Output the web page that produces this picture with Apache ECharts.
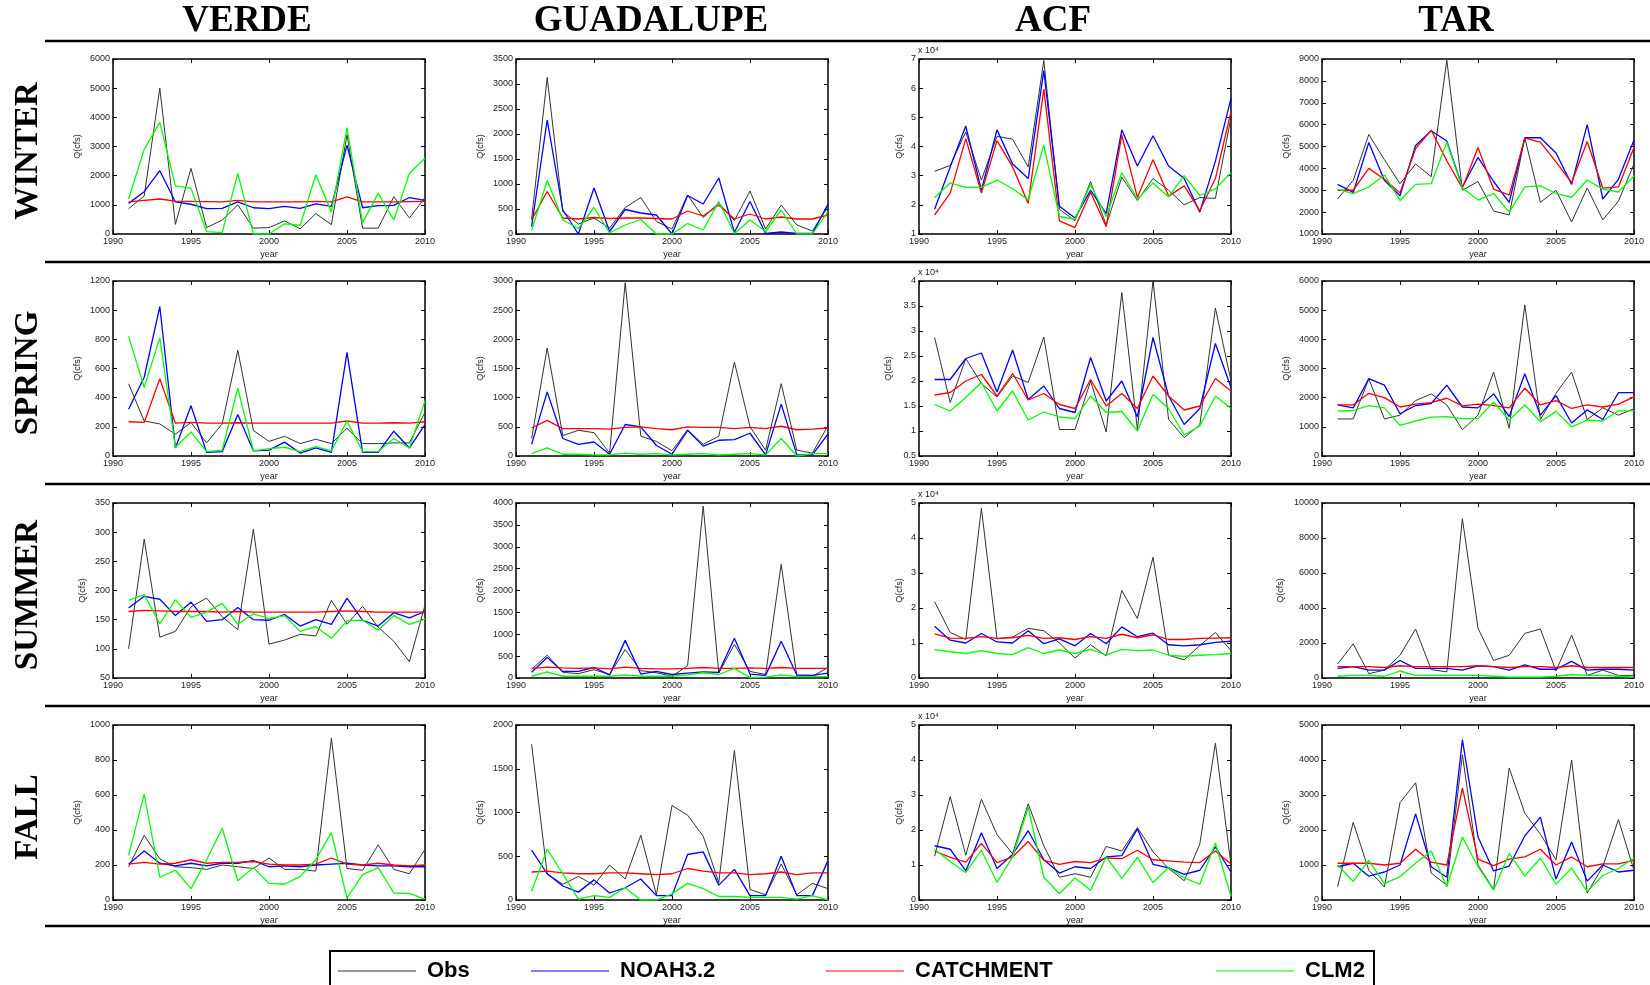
<!DOCTYPE html>
<html>
<head>
<meta charset="utf-8">
<script src="https://cdn.jsdelivr.net/npm/echarts@6/dist/echarts.min.js"></script>
<style>
html,body{margin:0;padding:0;background:#fff;}
#chart{width:1650px;height:985px;}
</style>
</head>
<body>
<div id="chart"></div>
<script>
// ---------- categories ----------
const years = [1991,1992,1993,1994,1995,1996,1997,1998,1999,2000,2001,2002,2003,2004,2005,2006,2007,2008,2009,2010];
const basins = ['VERDE','GUADALUPE','ACF','TAR'];
const seasons = ['WINTER','SPRING','SUMMER','FALL'];
const seriesNames = ['Obs','NOAH3.2','CATCHMENT','CLM2'];

// ---------- WINTER (Q, cfs) ----------
const verdeWinterObs   = [870,1300,5000,330,2250,220,480,1000,200,220,450,180,700,320,3400,200,200,1280,550,1250];
const verdeWinterNoah  = [1050,1450,2170,1100,1020,870,880,1100,900,870,950,880,1030,950,3050,900,970,980,1250,1150];
const verdeWinterCatch = [1100,1150,1200,1130,1120,1110,1100,1150,1100,1100,1100,1100,1120,1100,1270,1100,1100,1100,1110,1120];
const verdeWinterClm   = [1200,2900,3830,1650,1570,80,50,2080,0,0,350,300,2030,750,3650,380,1400,480,2080,2600];

const guadWinterObs   = [300,3130,450,200,320,120,530,730,250,100,780,330,620,270,860,100,580,180,60,550];
const guadWinterNoah  = [150,2280,480,0,920,50,490,420,380,0,770,600,1120,30,650,10,40,10,10,600];
const guadWinterCatch = [280,850,320,300,330,310,320,320,310,300,460,360,580,300,400,300,340,300,300,380];
const guadWinterClm   = [70,1070,280,110,530,20,180,290,0,0,210,80,650,10,280,50,480,0,0,450];

const acfWinterObs   = [31500,33500,45000,28500,43500,42500,33000,69500,18500,14500,28000,13000,29500,21500,29000,25000,20000,22500,22200,50000];
const acfWinterNoah  = [18500,33000,47000,25000,45700,34000,29000,66000,19500,15500,25000,17000,45700,33300,43700,33300,29000,17500,35000,56500];
const acfWinterCatch = [16500,24000,42700,24000,42000,33000,20500,59700,14500,12200,24300,12500,44000,22500,35500,23000,26500,18000,29000,52000];
const acfWinterClm   = [22500,27500,26000,26000,28500,25500,21700,40500,16000,15000,27000,16000,31000,22000,27500,22700,30000,23200,25500,31000];

const tarWinterObs   = [2600,3450,5550,4400,3300,4200,3620,8950,3000,3400,2050,1870,5400,2450,3000,1550,3100,1650,2500,4200];
const tarWinterNoah  = [3270,2900,5180,3450,2750,5050,5720,5250,3150,4500,3400,2450,5400,5400,4700,3270,6000,2600,3500,5300];
const tarWinterCatch = [3000,3000,4000,3500,2880,4900,5750,4350,3100,4950,3050,2780,5380,5200,4300,3350,5230,3100,3150,4950];
const tarWinterClm   = [3050,2850,3150,3700,2530,3270,3300,5200,3100,2550,2850,2000,3150,3200,2850,2680,3470,3050,2920,3650];

// ---------- SPRING ----------
const verdeSpringObs   = [495,240,220,150,230,90,220,725,175,100,135,85,115,85,190,85,85,90,90,300];
const verdeSpringNoah  = [320,540,1025,55,345,25,30,285,35,40,95,20,55,25,710,25,25,170,55,215];
const verdeSpringCatch = [235,230,530,225,230,225,225,228,225,225,225,225,225,225,240,225,225,228,225,235];
const verdeSpringClm   = [820,470,810,60,165,30,40,465,35,50,60,30,65,35,240,30,30,120,55,380];

const guadSpringObs   = [300,1850,350,440,400,50,2970,340,250,90,450,200,340,1610,500,100,1240,100,50,520];
const guadSpringNoah  = [200,1100,300,200,240,30,540,500,180,30,440,170,270,280,390,20,890,20,20,380];
const guadSpringCatch = [480,610,470,470,470,460,490,500,470,450,500,490,490,470,490,470,510,450,460,480];
const guadSpringClm   = [40,140,30,30,20,20,50,30,40,20,30,40,20,30,40,20,300,0,40,40];

const acfSpringObs   = [28700,15700,24500,19500,16800,21000,19700,28800,10300,10300,20000,9800,37700,10300,40000,12300,8700,11200,34600,20000];
const acfSpringNoah  = [20300,20300,24500,25600,17800,26200,16300,19000,14500,13700,24700,16000,20000,12800,28700,17000,11300,14500,27500,18700];
const acfSpringCatch = [17200,17700,20000,21300,17000,21500,16200,17500,15300,14500,20300,15000,17500,14500,21000,17000,14200,15000,20500,18000];
const acfSpringClm   = [15300,14000,16700,19700,14000,18000,12200,13800,12800,12500,17000,13700,13900,10000,17300,14500,9200,11000,17000,14500];

const tarSpringObs   = [1270,1270,2650,1270,1400,1900,2130,1750,900,1400,2880,950,5180,1250,2150,2880,1250,1650,1400,1620];
const tarSpringNoah  = [1750,1650,2650,2430,1450,1730,1800,2430,1680,1650,2130,1350,2820,1400,2070,1130,1580,1250,2170,2170];
const tarSpringCatch = [1750,1750,2150,2000,1680,1780,1830,1980,1720,1780,1730,1650,2330,1750,1900,1630,1750,1680,1780,2030];
const tarSpringClm   = [1540,1560,1730,1650,1050,1200,1330,1350,1280,1280,1850,1230,1750,1170,1530,1000,1230,1200,1550,1550];

// ---------- SUMMER ----------
const verdeSummerObs   = [100,288,120,130,172,187,155,133,305,108,115,125,122,183,142,173,137,113,78,175];
const verdeSummerNoah  = [170,190,185,157,180,147,150,171,150,149,159,139,150,142,187,149,139,162,153,164];
const verdeSummerCatch = [164,166,165,164,164,164,163,164,163,163,163,163,163,164,165,164,163,163,163,163];
const verdeSummerClm   = [183,193,143,184,154,163,178,142,160,152,157,130,138,118,148,149,132,157,142,151];

const guadSummerObs   = [200,520,130,100,190,80,650,170,120,40,280,3930,110,770,150,80,2600,50,40,240];
const guadSummerNoah  = [130,470,150,150,240,70,860,90,150,80,110,140,130,910,90,60,840,70,60,110];
const guadSummerCatch = [220,250,230,220,230,210,250,220,210,210,220,240,220,220,230,220,240,220,220,220];
const guadSummerClm   = [40,140,40,40,40,40,70,40,40,40,70,120,80,220,10,20,70,30,30,30];

const acfSummerObs   = [21800,13000,11000,48500,11200,11700,14200,13500,10000,5700,9500,6300,25000,17000,34500,6500,5200,9300,13000,7800];
const acfSummerNoah  = [14800,10800,10000,12700,10300,10000,13500,9800,11200,9200,12700,9800,14600,11800,12800,9500,9200,9500,10200,10500];
const acfSummerCatch = [12600,11400,11300,11800,11300,11500,12200,11300,11500,11000,11800,11300,12500,11500,12300,11000,11000,11300,11400,11500];
const acfSummerClm   = [8100,7500,7000,7800,7000,6700,8700,7000,8000,7000,8200,6600,8200,7800,8000,6500,6200,6500,6700,7000];

const tarSummerObs   = [800,1950,250,450,1300,2800,480,350,9100,2850,1000,1300,2550,2800,400,2450,150,450,150,150];
const tarSummerNoah  = [550,650,450,450,1000,550,550,550,450,700,650,450,750,500,500,950,450,500,500,450];
const tarSummerCatch = [650,650,650,600,700,650,650,650,650,700,650,600,650,650,600,700,600,600,600,600];
const tarSummerClm   = [100,150,150,100,400,150,150,150,150,150,100,50,50,50,100,200,150,150,100,50];

// ---------- FALL ----------
const verdeFallObs   = [190,370,235,190,185,175,200,190,180,240,175,175,165,925,180,170,315,175,150,290];
const verdeFallNoah  = [205,280,210,195,210,195,210,210,225,190,195,190,200,205,210,200,195,195,190,190];
const verdeFallCatch = [205,215,205,210,230,210,215,215,220,205,200,200,205,240,205,200,210,200,195,200];
const verdeFallClm   = [255,605,130,170,65,230,410,110,185,95,90,135,230,385,10,145,185,40,38,5];

const guadFallObs   = [1780,300,180,270,170,400,240,740,60,1080,970,730,200,1710,120,60,410,60,190,130];
const guadFallNoah  = [570,300,160,90,230,80,140,240,50,50,520,550,170,350,50,50,500,50,50,450];
const guadFallCatch = [320,330,310,300,300,310,310,300,290,300,360,330,310,310,290,300,320,290,310,310];
const guadFallClm   = [100,580,300,10,50,30,140,0,0,70,190,130,40,40,30,30,30,10,50,0];

const acfFallObs   = [12500,29500,12800,28800,18700,13200,27500,15500,6500,7500,6500,15300,14000,20700,13800,9000,5500,16000,44800,10000];
const acfFallNoah  = [15500,14500,8300,19200,9000,13000,19800,11500,7700,9500,9000,12300,12700,20300,10200,9200,7300,8500,15200,8000];
const acfFallCatch = [14000,12200,10800,16200,10700,12300,16700,11300,10200,11000,10700,12000,11800,14200,11500,11200,10800,10700,14000,10300];
const acfFallClm   = [14500,11000,7800,14200,5000,12300,26500,6500,1800,6300,2800,12300,6200,12200,5000,9300,6300,4500,16300,1000];

const tarFallObs   = [380,2220,850,370,2780,3350,770,420,4150,1000,300,3770,2480,1880,1150,4000,200,950,2300,850];
const tarFallNoah  = [950,1050,680,800,1000,2460,950,650,4580,1800,830,970,1830,2370,600,1660,540,1000,800,850];
const tarFallCatch = [1050,1050,1050,1000,1050,1450,1080,1000,3200,1170,980,1170,1230,1450,1000,1230,950,1030,1030,1130];
const tarFallClm   = [1000,530,1130,470,670,1050,1400,380,1800,950,280,1330,680,1200,450,910,240,700,900,1200];

// ---------- y-axis ranges (row-major: season x basin) ----------
const yMins      = [0,0,10000,1000,  0,0,5000,0,  50,0,0,0,  0,0,0,0];
const yMaxs      = [6000,3500,70000,9000,  1200,3000,40000,6000,  350,4000,50000,10000,  1000,2000,50000,5000];
const yIntervals = [1000,500,10000,1000,  200,500,5000,1000,  50,500,10000,2000,  200,500,10000,1000];
const yDivisors  = [1,1,10000,1,  1,1,10000,1,  1,1,10000,1,  1,1,10000,1];
const xTicks = [1990, 2010, 5];

// panel data (row-major)
const panels = [
  [verdeWinterObs,verdeWinterNoah,verdeWinterCatch,verdeWinterClm],
  [guadWinterObs,guadWinterNoah,guadWinterCatch,guadWinterClm],
  [acfWinterObs,acfWinterNoah,acfWinterCatch,acfWinterClm],
  [tarWinterObs,tarWinterNoah,tarWinterCatch,tarWinterClm],
  [verdeSpringObs,verdeSpringNoah,verdeSpringCatch,verdeSpringClm],
  [guadSpringObs,guadSpringNoah,guadSpringCatch,guadSpringClm],
  [acfSpringObs,acfSpringNoah,acfSpringCatch,acfSpringClm],
  [tarSpringObs,tarSpringNoah,tarSpringCatch,tarSpringClm],
  [verdeSummerObs,verdeSummerNoah,verdeSummerCatch,verdeSummerClm],
  [guadSummerObs,guadSummerNoah,guadSummerCatch,guadSummerClm],
  [acfSummerObs,acfSummerNoah,acfSummerCatch,acfSummerClm],
  [tarSummerObs,tarSummerNoah,tarSummerCatch,tarSummerClm],
  [verdeFallObs,verdeFallNoah,verdeFallCatch,verdeFallClm],
  [guadFallObs,guadFallNoah,guadFallCatch,guadFallClm],
  [acfFallObs,acfFallNoah,acfFallCatch,acfFallClm],
  [tarFallObs,tarFallNoah,tarFallCatch,tarFallClm]
];

// ---------- layout & style ----------
const gridLefts = [113, 516, 919, 1322];
const gridTops = [59, 281, 503, 725];
const GW = 312, GH = 175;
const colors = ['#333333', '#0000ff', '#ff0000', '#00ff00'];
const widths = [1, 1.3, 1.3, 1.3];
const tickFont = 'Liberation Sans, Arial, sans-serif';

const grids = [], xAxes = [], yAxes = [], series = [], graphics = [];

function fmt(v, d) {
  const x = v / d;
  return String(Math.round(x * 100) / 100);
}

for (let r = 0; r < 4; r++) {
  for (let c = 0; c < 4; c++) {
    const i = r * 4 + c;
    grids.push({ left: gridLefts[c], top: gridTops[r], width: GW, height: GH, containLabel: false });
    const lineStyle = { color: '#000', width: 1.5 };
    xAxes.push({
      gridIndex: i, type: 'value', position: 'bottom',
      min: xTicks[0], max: xTicks[1], interval: xTicks[2],
      axisLine: { show: true, onZero: false, lineStyle },
      axisTick: { show: true, inside: true, length: 4, lineStyle: { color: '#000', width: 1 } },
      axisLabel: { show: true, fontSize: 9, color: '#222', margin: 3, fontFamily: tickFont,
        formatter: (v) => String(v) },
      splitLine: { show: false },
      name: 'year', nameLocation: 'middle', nameGap: 16,
      nameTextStyle: { fontSize: 9, color: '#222', fontFamily: tickFont }
    });
    xAxes.push({
      gridIndex: i, type: 'value', position: 'top',
      min: xTicks[0], max: xTicks[1], interval: xTicks[2],
      axisLine: { show: true, onZero: false, lineStyle },
      axisTick: { show: true, inside: true, length: 4, lineStyle: { color: '#000', width: 1 } },
      axisLabel: { show: false }, splitLine: { show: false }
    });
    const d = yDivisors[i];
    let maxChars = 0;
    for (let v = yMins[i]; v <= yMaxs[i] + 1e-9; v += yIntervals[i]) {
      maxChars = Math.max(maxChars, fmt(v, d).length);
    }
    yAxes.push({
      gridIndex: i, type: 'value', position: 'left',
      min: yMins[i], max: yMaxs[i], interval: yIntervals[i],
      axisLine: { show: true, onZero: false, lineStyle },
      axisTick: { show: true, inside: true, length: 4, lineStyle: { color: '#000', width: 1 } },
      axisLabel: { show: true, fontSize: 9, color: '#222', margin: 3, fontFamily: tickFont,
        formatter: (v) => fmt(v, d) },
      splitLine: { show: false },
      name: 'Q(cfs)', nameLocation: 'middle', nameGap: maxChars * 5.5 + 9,
      nameTextStyle: { fontSize: 9, color: '#222', fontFamily: tickFont }
    });
    yAxes.push({
      gridIndex: i, type: 'value', position: 'right',
      min: yMins[i], max: yMaxs[i], interval: yIntervals[i],
      axisLine: { show: true, onZero: false, lineStyle },
      axisTick: { show: true, inside: true, length: 4, lineStyle: { color: '#000', width: 1 } },
      axisLabel: { show: false }, splitLine: { show: false }
    });
    for (let s = 0; s < 4; s++) {
      series.push({
        type: 'line', name: seriesNames[s],
        xAxisIndex: 2 * i, yAxisIndex: 2 * i,
        data: years.map((y, k) => [y, panels[i][s][k]]),
        symbol: 'none', showSymbol: false,
        color: colors[s],
        lineStyle: { color: colors[s], width: widths[s] },
        animation: false, silent: true
      });
    }
    if (d !== 1) {
      graphics.push({
        type: 'text', left: gridLefts[c] - 1, top: gridTops[r] - 13,
        style: { text: 'x 10⁴', fontSize: 9, fill: '#222', fontFamily: tickFont }
      });
    }
  }
}

// column headers
const headerCenters = [247, 651, 1053, 1456];
basins.forEach((b, k) => {
  graphics.push({
    type: 'text', x: headerCenters[k], y: 21,
    style: { text: b, fontSize: 37, fontWeight: 'bold', fontFamily: 'Liberation Serif, Times New Roman, serif',
      fill: '#000', textAlign: 'center', textVerticalAlign: 'middle' }
  });
});
// row labels
const rowCenters = [151, 373, 595, 817];
seasons.forEach((s, k) => {
  graphics.push({
    type: 'text', x: 28, y: rowCenters[k], rotation: Math.PI / 2,
    style: { text: s, fontSize: 33, fontWeight: 'bold', fontFamily: 'Liberation Serif, Times New Roman, serif',
      fill: '#000', textAlign: 'center', textVerticalAlign: 'middle' }
  });
});
// separator lines
[41, 262, 484, 706, 926].forEach(y => {
  graphics.push({ type: 'line', shape: { x1: 45, y1: y, x2: 1650, y2: y },
    style: { stroke: '#000', lineWidth: 2.5 } });
});
// legend box
graphics.push({ type: 'rect', shape: { x: 330, y: 951, width: 1044, height: 60 },
  style: { fill: 'none', stroke: '#000', lineWidth: 2 } });

const legendLefts = [338, 531, 826, 1216];
const legends = seriesNames.map((n, k) => ({
  data: [n], left: legendLefts[k], top: 960, orient: 'horizontal',
  icon: 'rect', itemWidth: 78, itemHeight: 1.2, itemGap: 0, padding: 0,
  selectedMode: false,
  textStyle: { fontFamily: 'Liberation Sans, Arial, sans-serif', fontWeight: 'bold',
    fontSize: 22, color: '#000', padding: [0, 0, 0, 6] }
}));

const chart = echarts.init(document.getElementById('chart'), null, { renderer: 'canvas' });
chart.setOption({
  backgroundColor: '#fff',
  animation: false,
  grid: grids, xAxis: xAxes, yAxis: yAxes, series: series,
  legend: legends,
  graphic: graphics
});
</script>
</body>
</html>
